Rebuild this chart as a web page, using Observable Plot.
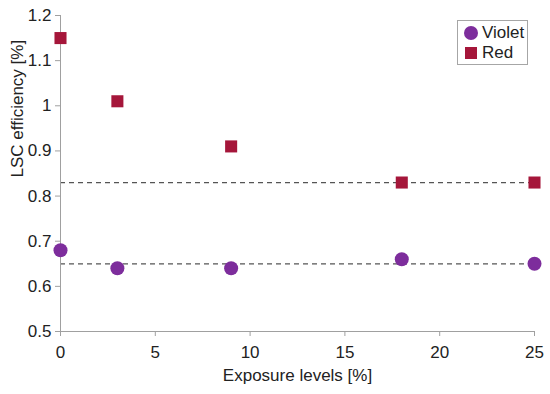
<!DOCTYPE html>
<html>
<head>
<meta charset="utf-8">
<script src="https://cdn.jsdelivr.net/npm/d3@7"></script>
<script src="https://cdn.jsdelivr.net/npm/@observablehq/plot@0.6"></script>
<style>
  html, body { margin: 0; padding: 0; background: #fff; }
  #wrap { position: relative; width: 550px; height: 394px; font-family: "Liberation Sans", Arial, sans-serif; }
  #wrap svg text { font-size: 17px; }
  #legend { position: absolute; left: 457px; top: 20px; width: 71px; height: 45px; border: 1px solid #a6a6a6; background: #fff; box-sizing: border-box; font-size: 17px; color: #222; }
  .row { position: absolute; left: 6px; display: flex; align-items: center; }
  .row span { margin-left: 4px; }
</style>
</head>
<body>
<div id="wrap"></div>
<script>
const exposure = [0, 3, 9, 18, 25];
const violet = [0.68, 0.64, 0.64, 0.66, 0.65];
const red = [1.15, 1.01, 0.91, 0.83, 0.83];
const guideValues = [0.83, 0.65];
const guideRange = [0, 25];
const xTicks = [0, 5, 10, 15, 20, 25];
const yTicks = [0.5, 0.6, 0.7, 0.8, 0.9, 1, 1.1, 1.2];
const seriesNames = ["Violet", "Red"];
const seriesColors = ["#7d2d9c", "#a5163a"];
const xTitle = "Exposure levels [%]";
const yTitle = "LSC efficiency [%]";

const violetData = exposure.map((x, i) => ({x, y: violet[i]}));
const redData = exposure.map((x, i) => ({x, y: red[i]}));
const guides = guideValues.map(y => ({y, x1: guideRange[0], x2: guideRange[1]}));

const axisColor = "#a0a0a0";
const chart = Plot.plot({
  width: 550,
  height: 394,
  marginLeft: 60,
  marginRight: 16,
  marginTop: 15,
  marginBottom: 63,
  style: {fontFamily: "Liberation Sans, Arial, sans-serif", fontSize: "17px", color: "#222", background: "#fff"},
  x: {domain: [0, 25]},
  y: {domain: [0.5, 1.2]},
  marks: [
    Plot.ruleY(guides, {y: "y", x1: "x1", x2: "x2", stroke: "#555", strokeWidth: 1.2, strokeDasharray: "5,4"}),
    Plot.axisX({ticks: xTicks, tickSize: 5, tickPadding: 9, stroke: axisColor, fill: "#222", label: null, tickFormat: d => String(d)}),
    Plot.axisY({ticks: yTicks, tickSize: 5, tickPadding: 4, stroke: axisColor, fill: "#222", label: null, tickFormat: d => String(d)}),
    Plot.text([xTitle], {frameAnchor: "bottom", text: d => d, dy: 49, lineAnchor: "bottom", fill: "#222"}),
    Plot.text([yTitle], {frameAnchor: "left", text: d => d, rotate: -90, dx: -38, dy: 4, lineAnchor: "bottom", fill: "#222"}),
    Plot.ruleX([0], {stroke: axisColor}),
    Plot.ruleY([0.5], {stroke: axisColor}),
    Plot.dot(violetData, {x: "x", y: "y", r: 7, fill: seriesColors[0], symbol: "circle"}),
    Plot.dot(redData, {x: "x", y: "y", r: 6.8, fill: seriesColors[1], symbol: "square"})
  ]
});
const wrap = document.getElementById("wrap");
wrap.appendChild(chart);

const legend = document.createElement("div");
legend.id = "legend";
const shapes = [
  `<svg width="14" height="14"><circle cx="7" cy="7" r="7" fill="${seriesColors[0]}"/></svg>`,
  `<svg width="14" height="14"><rect x="1" y="1" width="12" height="12" fill="${seriesColors[1]}"/></svg>`
];
seriesNames.forEach((name, i) => {
  const row = document.createElement("div");
  row.className = "row";
  row.style.top = (i === 0 ? 2 : 22) + "px";
  row.innerHTML = shapes[i] + `<span>${name}</span>`;
  legend.appendChild(row);
});
wrap.appendChild(legend);
</script>
</body>
</html>
